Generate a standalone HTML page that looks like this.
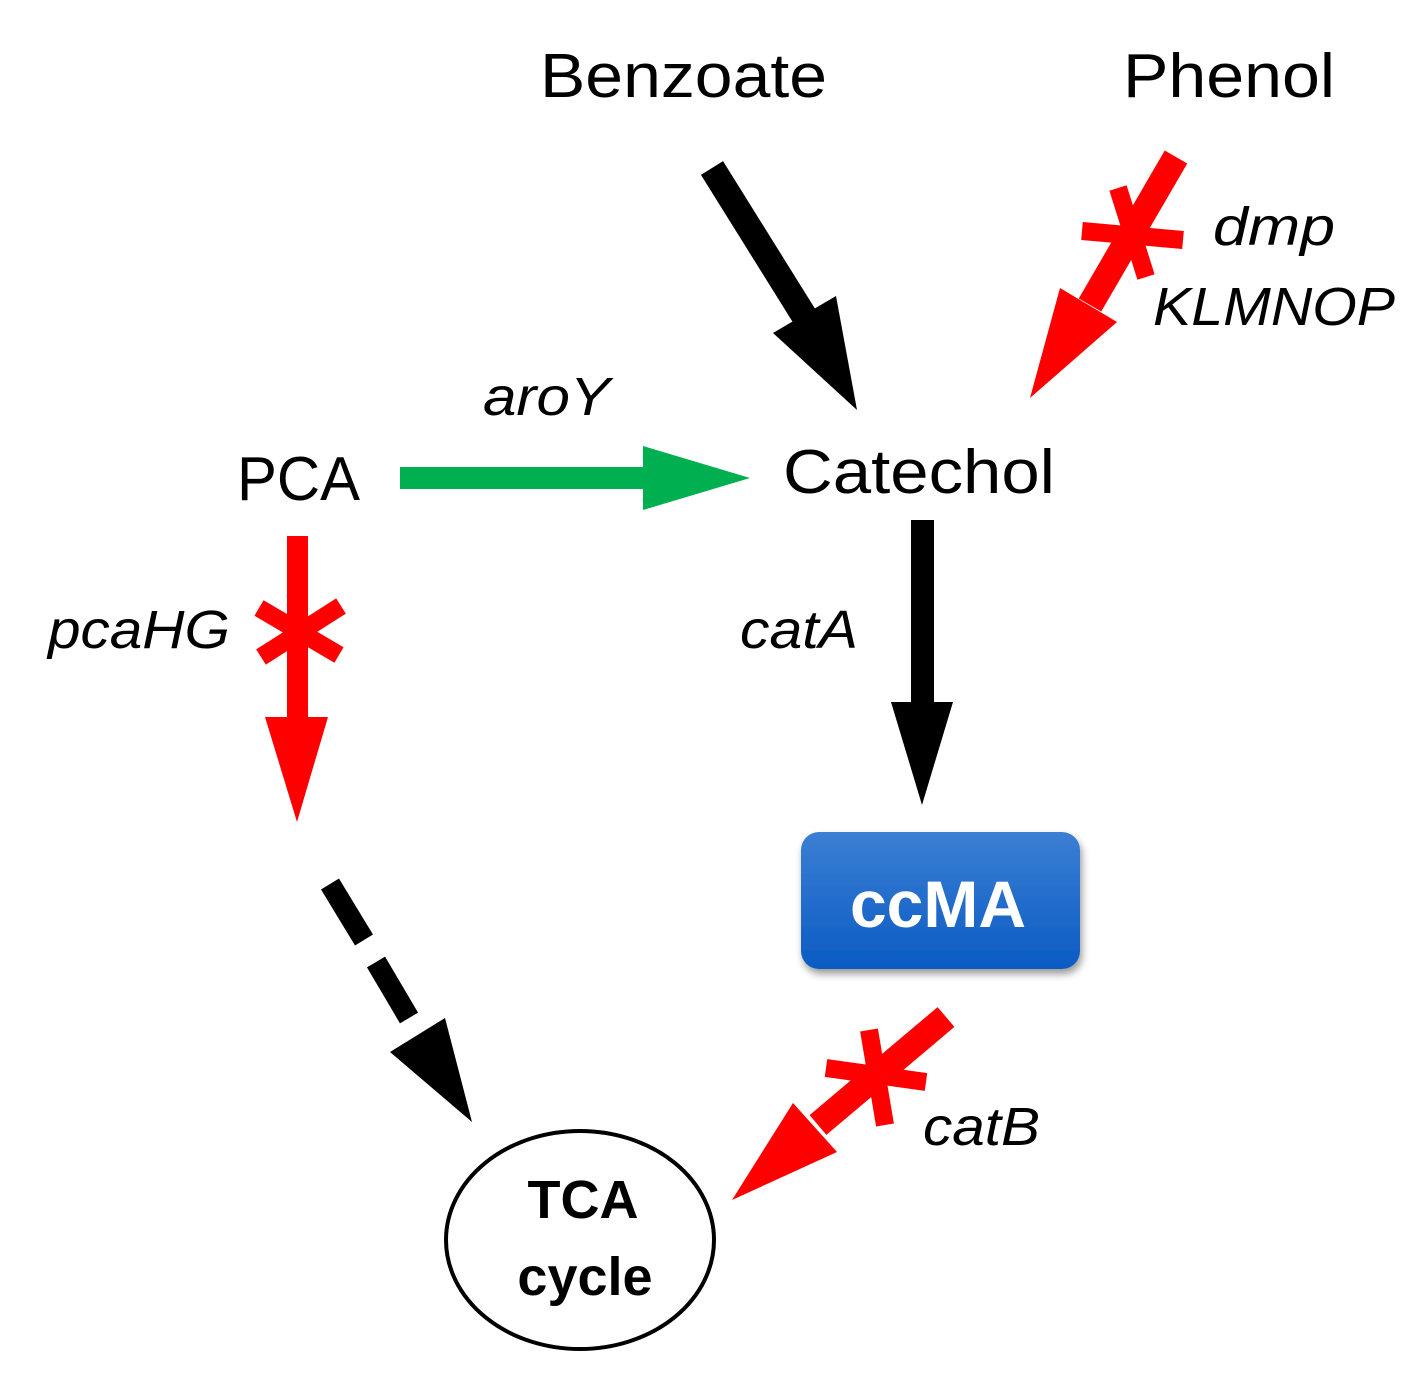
<!DOCTYPE html>
<html><head><meta charset="utf-8"><style>
html,body{margin:0;padding:0;background:#fff;}
svg{display:block;}
text{font-family:"Liberation Sans",sans-serif;}
</style></head><body>
<svg width="1426" height="1390" viewBox="0 0 1426 1390" xmlns="http://www.w3.org/2000/svg">
<defs>
<linearGradient id="g" x1="0" y1="0" x2="0" y2="1">
<stop offset="0" stop-color="#3b7fd3"/><stop offset="1" stop-color="#0b5bc4"/>
</linearGradient>
<filter id="sh" x="-10%" y="-10%" width="130%" height="140%"><feDropShadow dx="2" dy="5" stdDeviation="4" flood-color="#000" flood-opacity="0.4"/></filter>
</defs>
<text x="540" y="97" font-size="62" textLength="287" lengthAdjust="spacingAndGlyphs">Benzoate</text>
<text x="1123" y="97" font-size="62" textLength="212" lengthAdjust="spacingAndGlyphs">Phenol</text>
<text x="237" y="500" font-size="62" textLength="123" lengthAdjust="spacingAndGlyphs">PCA</text>
<text x="783" y="493" font-size="62" textLength="272" lengthAdjust="spacingAndGlyphs">Catechol</text>
<g font-style="italic" font-size="54">
<text x="483" y="415" textLength="127" lengthAdjust="spacingAndGlyphs">aroY</text>
<text x="1213" y="245" textLength="122" lengthAdjust="spacingAndGlyphs">dmp</text>
<text x="1153" y="325" textLength="242" lengthAdjust="spacingAndGlyphs">KLMNOP</text>
<text x="48" y="648" textLength="182" lengthAdjust="spacingAndGlyphs">pcaHG</text>
<text x="740" y="648" textLength="118" lengthAdjust="spacingAndGlyphs">catA</text>
<text x="923" y="1145" textLength="117" lengthAdjust="spacingAndGlyphs">catB</text>
</g>
<line x1="712" y1="168" x2="808" y2="322" stroke="#000" stroke-width="26"/>
<polygon points="773,333 836,296 857,410" fill="#000"/>
<line x1="1176" y1="157" x2="1090" y2="305" stroke="#f00" stroke-width="26"/>
<polygon points="1060,288 1117,322 1030,398" fill="#f00"/>
<line x1="1082" y1="231" x2="1183" y2="240" stroke="#f00" stroke-width="18"/>
<line x1="1118" y1="188" x2="1146" y2="277" stroke="#f00" stroke-width="18"/>
<rect x="400" y="467" width="248" height="22" fill="#00b050"/>
<polygon points="643,446 643,510 750,478" fill="#00b050"/>
<rect x="287" y="536" width="21" height="184" fill="#f00"/>
<polygon points="265,717 328,717 297,822" fill="#f00"/>
<line x1="259" y1="608" x2="339" y2="655" stroke="#f00" stroke-width="18"/>
<line x1="261" y1="657" x2="341" y2="606" stroke="#f00" stroke-width="18"/>
<rect x="911" y="520" width="23" height="185" fill="#000"/>
<polygon points="891,702 953,702 922,805" fill="#000"/>
<line x1="330" y1="884" x2="364" y2="940" stroke="#000" stroke-width="21"/>
<line x1="376" y1="962" x2="409" y2="1018" stroke="#000" stroke-width="21"/>
<polygon points="390,1052 445,1018 472,1122" fill="#000"/>
<rect x="801" y="832" width="279" height="137" rx="18" fill="url(#g)" filter="url(#sh)"/>
<text x="938" y="927" font-size="66" font-weight="bold" fill="#fff" text-anchor="middle">ccMA</text>
<line x1="946" y1="1017" x2="818" y2="1125" stroke="#f00" stroke-width="26"/>
<polygon points="793,1103 837,1152 732,1200" fill="#f00"/>
<line x1="826" y1="1068" x2="926" y2="1082" stroke="#f00" stroke-width="18"/>
<line x1="869" y1="1030" x2="885" y2="1125" stroke="#f00" stroke-width="18"/>
<ellipse cx="580" cy="1240" rx="134" ry="109" fill="#fff" stroke="#000" stroke-width="4"/>
<text x="583" y="1218" font-size="54" font-weight="bold" text-anchor="middle">TCA</text>
<text x="585" y="1295" font-size="54" font-weight="bold" text-anchor="middle">cycle</text>
</svg>
</body></html>
